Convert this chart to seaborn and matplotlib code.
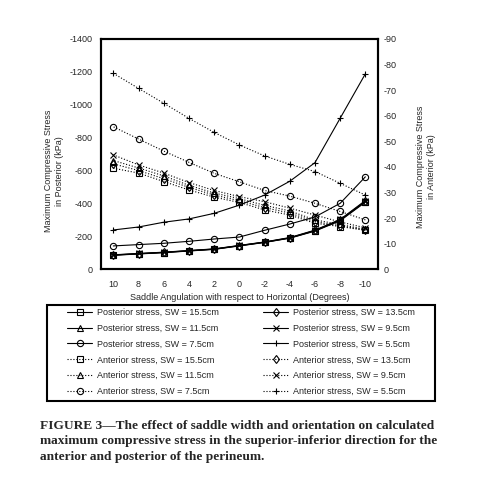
import matplotlib
matplotlib.use('Agg')
import matplotlib.pyplot as plt
import matplotlib.patches as mpatches
import pandas as pd
import seaborn as sns

# saddle angle (degrees)
angle = [10, 8, 6, 4, 2, 0, -2, -4, -6, -8, -10]

# posterior stress (kPa, left axis)
post_155 = [86, 94, 102, 112, 122, 143, 164, 190, 234, 298, 411]
post_135 = [87, 95, 103, 113, 123, 144, 165, 191, 236, 300, 414]
post_115 = [85, 93, 101, 111, 121, 142, 163, 189, 232, 295, 408]
post_95 = [88, 96, 104, 114, 124, 145, 166, 193, 238, 303, 418]
post_75 = [142, 150, 158, 170, 184, 196, 237, 275, 318, 401, 562]
post_55 = [239, 257, 286, 306, 340, 390, 451, 535, 648, 918, 1188]

# anterior stress (kPa, right axis)
ant_155 = [39.5, 37.6, 34.3, 31.0, 28.2, 26.1, 23.2, 21.2, 18.0, 16.7, 15.2]
ant_135 = [41.2, 38.6, 35.4, 32.0, 29.0, 26.8, 24.1, 22.0, 18.6, 17.0, 15.4]
ant_115 = [42.5, 39.6, 36.5, 32.8, 29.8, 27.6, 25.0, 22.8, 19.3, 17.5, 15.6]
ant_95 = [44.7, 40.8, 37.6, 33.9, 30.8, 28.4, 26.4, 23.9, 21.2, 18.5, 16.2]
ant_75 = [55.7, 50.9, 46.2, 41.8, 37.5, 34.2, 30.8, 28.6, 25.8, 22.6, 19.3]
ant_55 = [76.6, 70.7, 64.9, 59.0, 53.5, 48.6, 44.3, 41.0, 38.2, 33.6, 29.0]

widths = ['15.5', '13.5', '11.5', '9.5', '7.5', '5.5']
markers = ['s', 'd', '^', 'x', 'o', '+']
posterior = [post_155, post_135, post_115, post_95, post_75, post_55]
anterior = [ant_155, ant_135, ant_115, ant_95, ant_75, ant_55]

left_ticks = [0, 200, 400, 600, 800, 1000, 1200, 1400]
right_ticks = [0, 10, 20, 30, 40, 50, 60, 70, 80, 90]

sns.set_style('white')
plt.rcParams['font.family'] = ['Liberation Sans', 'DejaVu Sans']

fig = plt.figure(figsize=(4.78, 4.80), dpi=100)
ax = fig.add_axes([0.2107, 0.439, 0.580, 0.4798])
ax2 = ax.twinx()

def draw(axis, values, marker, style, label):
    df = pd.DataFrame({'angle': angle, 'stress': values})
    sns.lineplot(data=df, x='angle', y='stress', ax=axis, color='black',
                 marker=marker, markersize=4.5, markerfacecolor='none',
                 markeredgecolor='black', markeredgewidth=0.8,
                 linestyle=style, linewidth=0.8, label=label, legend=False)

for sw, m, vals in zip(widths, markers, posterior):
    draw(ax, vals, m, '-', f'Posterior stress, SW = {sw}cm')
for sw, m, vals in zip(widths, markers, anterior):
    draw(ax2, vals, m, ':', f'Anterior stress, SW = {sw}cm')

h1, l1 = ax.get_legend_handles_labels()
h2, l2 = ax2.get_legend_handles_labels()
handles = h1 + h2
labels = l1 + l2
# legend reads row by row: reorder for matplotlib's column filling
order = [0, 2, 4, 6, 8, 10, 1, 3, 5, 7, 9, 11]

ax.set_xlim(11, -11)
ax.set_ylim(0, 1400)
ax2.set_ylim(0, 90)
ax.set_xticks(angle)
ax.set_xticklabels([str(a) for a in angle])
ax.set_yticks(left_ticks)
ax.set_yticklabels([str(t) if t == 0 else '-' + str(t) for t in left_ticks])
ax2.set_yticks(right_ticks)
ax2.set_yticklabels([str(t) if t == 0 else '-' + str(t) for t in right_ticks])
ax.tick_params(axis='x', length=0, pad=8, labelsize=6.5)
ax.tick_params(axis='y', length=0, pad=5.5, labelsize=6.5)
ax2.tick_params(axis='y', length=0, pad=4.3, labelsize=6.5)
ax.set_xlabel('')
ax.set_ylabel('')
ax2.set_ylabel('')
for a in (ax, ax2):
    for sp in a.spines.values():
        sp.set_linewidth(1.5)
        sp.set_color('black')

fig.text(54 / 478, 1 - 171 / 480, 'Maximum Compressive Stress\nin Posterior (kPa)',
         rotation=90, ha='center', va='center', multialignment='center', fontsize=6.5)
fig.text(426 / 478, 1 - 167 / 480, 'Maximum Compressive Stress\nin Anterior (kPa)',
         rotation=90, ha='center', va='center', multialignment='center', fontsize=6.5)
fig.text(0.5 * (100.7 + 378) / 478, 1 - 298 / 480,
         'Saddle Angulation with respect to Horizontal (Degrees)',
         ha='center', va='center', fontsize=6.5)

fig.legend([handles[i] for i in order], [labels[i] for i in order],
           loc='upper left', bbox_to_anchor=(67 / 478, 1 - 308 / 480),
           ncol=2, frameon=False, fontsize=6.5, borderpad=0, borderaxespad=0,
           handlelength=2.8, handletextpad=0.5, columnspacing=4.9,
           labelspacing=0.75)
fig.add_artist(mpatches.Rectangle((47 / 478, 1 - 401 / 480), 388 / 478, 96 / 480,
                                  transform=fig.transFigure, fill=False,
                                  linewidth=1.5, edgecolor='black'))

fig.text(40 / 478, 1 - 420 / 480,
         'FIGURE 3\u2014The effect of saddle width and orientation on calculated\n'
         'maximum compressive stress in the superior-inferior direction for the\n'
         'anterior and posterior of the perineum.',
         ha='left', va='top', fontsize=9.6, fontweight='bold',
         family=['Liberation Serif', 'DejaVu Serif'], linespacing=1.37)

fig.savefig('out.png', dpi=100)
